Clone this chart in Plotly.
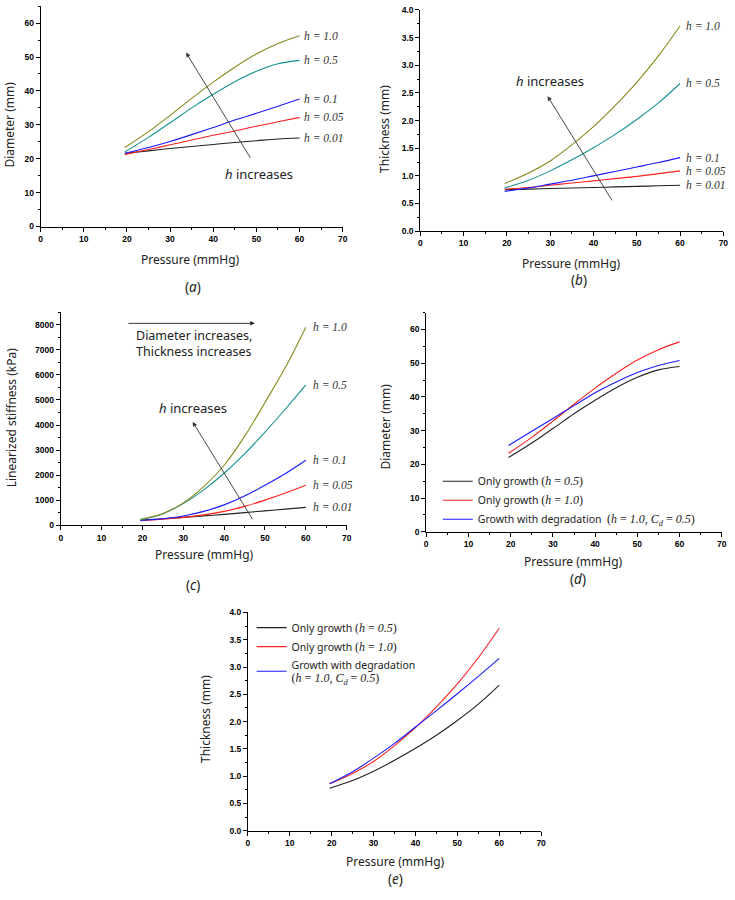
import plotly.graph_objects as go

# ---------------- data ----------------
pressure = [19.5, 25, 30, 35, 40, 45, 50, 55, 60]

diam_h001 = [21.6, 22.3, 23.0, 23.6, 24.2, 24.8, 25.3, 25.8, 26.1]
diam_h005 = [21.2, 22.7, 24.1, 25.5, 26.9, 28.2, 29.6, 30.9, 32.2]
diam_h01 = [21.6, 23.3, 25.1, 27.1, 29.2, 31.4, 33.4, 35.5, 37.6]
diam_h05 = [22.0, 26.3, 30.6, 35.0, 39.0, 42.7, 45.8, 48.0, 49.0]
diam_h10 = [23.3, 28.0, 32.8, 37.8, 42.6, 47.0, 50.9, 54.0, 56.3]
diam_deg = [25.6, 29.8, 33.6, 37.4, 41.2, 44.4, 47.2, 49.3, 50.8]

thick_h001 = [0.75, 0.76, 0.77, 0.78, 0.79, 0.80, 0.81, 0.82, 0.83]
thick_h005 = [0.76, 0.79, 0.83, 0.87, 0.91, 0.95, 0.99, 1.04, 1.09]
thick_h01 = [0.72, 0.78, 0.85, 0.92, 1.00, 1.08, 1.16, 1.24, 1.33]
thick_h05 = [0.78, 0.92, 1.09, 1.29, 1.51, 1.75, 2.02, 2.32, 2.67]
thick_h10 = [0.86, 1.05, 1.27, 1.56, 1.89, 2.27, 2.69, 3.17, 3.71]
thick_deg = [0.86, 1.08, 1.33, 1.60, 1.90, 2.20, 2.51, 2.83, 3.16]

stiff_h001 = [220, 270, 320, 380, 440, 510, 580, 650, 720]
stiff_h005 = [190, 250, 320, 420, 560, 760, 1010, 1290, 1600]
stiff_h01 = [200, 270, 380, 560, 820, 1170, 1600, 2070, 2600]
stiff_h05 = [220, 470, 870, 1420, 2080, 2850, 3720, 4640, 5600]
stiff_h10 = [250, 480, 900, 1550, 2400, 3550, 4900, 6300, 7900]

h_labels = ["h = 0.01", "h = 0.05", "h = 0.1", "h = 0.5", "h = 1.0"]

# ---------------- styles / geometry ----------------
W, H = 735, 900
C_OLIVE = "#88881c"
C_TEAL = "#179090"
h_colors = ["#222222", "#ff2020", "#1a1aff", C_TEAL, C_OLIVE]
SERIF = "Liberation Serif"
SANS = "Noto Sans"
TXT = "#222222"
TICKF = dict(family="Liberation Sans", size=8.5, color="black", weight="bold")


def PX(x):   # screen px -> paper x
    return x / W


def PY(y):   # screen px -> paper y
    return 1 - y / H


fig = go.Figure()

panels = {
    # name: (xpx0, xpx1, ypx_top, ypx_bottom, yrange, ydtick, yminor)
    "1": (39, 344, 224 - 65 * 3.428, 224, [0, 65], 10, 5),
    "2": (422.3, 728.3, 5, 228.7, [0, 4], 0.5, 0.25),
    "3": (59.3, 348, 310.6, 526.3, [0, 8500], 1000, 500),
    "4": (428.3, 726.7, 311, 532.7, [0, 65], 10, 5),
    "5": (248.3, 544.3, 614.3, 835, [0, 4], 0.5, 0.25),
}

layout_axes = {}
for k, (x0, x1, yt, yb, yr, ydt, ymn) in panels.items():
    xa = "xaxis" if k == "1" else "xaxis" + k
    ya = "yaxis" if k == "1" else "yaxis" + k
    common = dict(showline=True, linecolor="black", linewidth=1, ticks="outside",
                  ticklen=4, tickwidth=1, tickcolor="black", showgrid=False,
                  zeroline=False, tickfont=TICKF, fixedrange=True)
    layout_axes[xa] = dict(common, domain=[PX(x0), PX(x1)], range=[0, 70], dtick=10, tick0=0,
                           anchor="y" if k == "1" else "y" + k,
                           minor=dict(ticks="outside", ticklen=2, dtick=5, tickcolor="black"))
    fmt = ".1f" if ydt == 0.5 else "d"
    layout_axes[ya] = dict(common, domain=[PY(yb), PY(yt)], range=yr, dtick=ydt, tick0=0,
                           tickformat=fmt,
                           anchor="x" if k == "1" else "x" + k,
                           minor=dict(ticks="outside", ticklen=2, dtick=ymn, tickcolor="black"))


def add(xs, ys, color, k, name=None, legend=None, width=1.1):
    fig.add_trace(go.Scatter(
        x=xs, y=ys, mode="lines", line=dict(color=color, width=width, shape="spline", smoothing=1.0),
        xaxis="x" if k == "1" else "x" + k, yaxis="y" if k == "1" else "y" + k,
        showlegend=legend is not None, legend=legend, name=name, hoverinfo="skip"))


for series, k in [((diam_h001, diam_h005, diam_h01, diam_h05, diam_h10), "1"),
                  ((thick_h001, thick_h005, thick_h01, thick_h05, thick_h10), "2"),
                  ((stiff_h001, stiff_h005, stiff_h01, stiff_h05, stiff_h10), "3")]:
    for ys, c in zip(series, h_colors):
        add(pressure, ys, c, k)


def math(s):
    return '<span style="font-family:Liberation Serif;font-size:12px">' + s + '</span>'


leg1 = "Only growth " + math("(<i>h</i> = <i>0.5</i>)")
leg2 = "Only growth " + math("(<i>h</i> = <i>1.0</i>)")
leg_d3 = "Growth with degradation  " + math("(<i>h</i> = <i>1.0</i>, <i>C<sub>d</sub></i> = <i>0.5</i>)")
leg_e3 = "Growth with degradation<br>" + math("(<i>h</i> = <i>1.0</i>, <i>C<sub>d</sub></i> = <i>0.5</i>)")

add(pressure, diam_h05, "#222222", "4", leg1, "legend")
add(pressure, diam_h10, "#ff2020", "4", leg2, "legend")
add(pressure, diam_deg, "#1a1aff", "4", leg_d3, "legend")
add(pressure, thick_h05, "#222222", "5", leg1, "legend2")
add(pressure, thick_h10, "#ff2020", "5", leg2, "legend2")
add(pressure, thick_deg, "#1a1aff", "5", leg_e3, "legend2")

ann = []


def ref(k):
    return ("x" if k == "1" else "x" + k), ("y" if k == "1" else "y" + k)


for k, xl, ys_list in [("1", 60.6, (diam_h001, diam_h005, diam_h01, diam_h05, diam_h10)),
                       ("2", 61.0, (thick_h001, thick_h005, thick_h01, thick_h05, thick_h10)),
                       ("3", 61.2, (stiff_h001, stiff_h005, stiff_h01, stiff_h05, stiff_h10))]:
    xr, yr = ref(k)
    for lab, ys in zip(h_labels, ys_list):
        ann.append(dict(x=xl, y=ys[-1], xref=xr, yref=yr, text="<i>" + lab + "</i>",
                        showarrow=False, xanchor="left", yanchor="middle",
                        font=dict(family=SERIF, size=11.5, color="#333333")))

for k, tail, head, tpos in [("1", (48.8, 19.8), (33.7, 51.3), (50.7, 15.5)),
                            ("2", (44.5, 0.53), (29.4, 2.44), (30.0, 2.71)),
                            ("3", (47.2, 184), (32.3, 4125), (32.5, 4690))]:
    xr, yr = ref(k)
    ann.append(dict(x=head[0], y=head[1], ax=tail[0], ay=tail[1], xref=xr, yref=yr,
                    axref=xr, ayref=yr, text="", showarrow=True, arrowhead=2,
                    arrowsize=1, arrowwidth=0.9, arrowcolor="#333333", standoff=0))
    ann.append(dict(x=tpos[0], y=tpos[1], xref=xr, yref=yr, text="<i>h</i> increases",
                    xanchor="center", yanchor="middle",
                    showarrow=False, font=dict(family=SANS, size=13, color=TXT)))

ann.append(dict(x=47.5, y=8053, ax=16.2, ay=8053, xref="x3", yref="y3", axref="x3", ayref="y3",
                text="", showarrow=True, arrowhead=2, arrowsize=1, arrowwidth=0.9,
                arrowcolor="#222222", standoff=0))
ann.append(dict(x=17.9, y=7270, xref="x3", yref="y3", xanchor="left", yanchor="middle", align="left",
                text="Diameter increases,<br>Thickness increases", showarrow=False,
                font=dict(family=SANS, size=12.5, color=TXT)))

xtitles = [(190, 257), (575, 261), (204, 556), (577, 563), (397, 866)]
for cx, cy in xtitles:
    ann.append(dict(x=PX(cx), y=PY(cy), xref="paper", yref="paper", text="Pressure (mmHg)",
                    xanchor="center", yanchor="middle",
                    showarrow=False, font=dict(family=SANS, size=12, color=TXT)))
ytitles = [("Diameter (mm)", 8, 121), ("Thickness (mm)", 386, 125),
           ("Linearized stiffness (kPa)", 9, 417), ("Diameter (mm)", 387, 426),
           ("Thickness (mm)", 206, 722)]
for t, cx, cy in ytitles:
    ann.append(dict(x=PX(cx), y=PY(cy), xref="paper", yref="paper", text=t, textangle=-90,
                    xanchor="center", yanchor="middle",
                    showarrow=False, font=dict(family=SANS, size=12, color=TXT)))

for t, cx, cy in [("a", 193, 285), ("b", 583, 278), ("c", 193, 587), ("d", 582, 580), ("e", 397, 884)]:
    ann.append(dict(x=PX(cx), y=PY(cy), xref="paper", yref="paper", text="(<i>" + t + "</i>)",
                    xanchor="center", yanchor="middle",
                    showarrow=False, font=dict(family=SANS, size=13.5, color=TXT)))

fig.update_layout(
    width=W, height=H, margin=dict(l=0, r=0, t=0, b=0),
    paper_bgcolor="white", plot_bgcolor="white",
    annotations=ann, showlegend=True,
    legend=dict(x=PX(440), y=PY(467), xanchor="left", yanchor="top", bgcolor="rgba(0,0,0,0)",
                font=dict(family=SANS, size=10.5, color=TXT), tracegroupgap=0, itemwidth=30),
    legend2=dict(x=PX(252), y=PY(615), xanchor="left", yanchor="top", bgcolor="rgba(0,0,0,0)",
                 font=dict(family=SANS, size=10.5, color=TXT), tracegroupgap=0, itemwidth=30),
    **layout_axes,
)

fig.write_html("out.html", config={"displayModeBar": False, "staticPlot": True},
               post_script="document.body.style.margin='0';document.body.style.overflow='hidden';")
